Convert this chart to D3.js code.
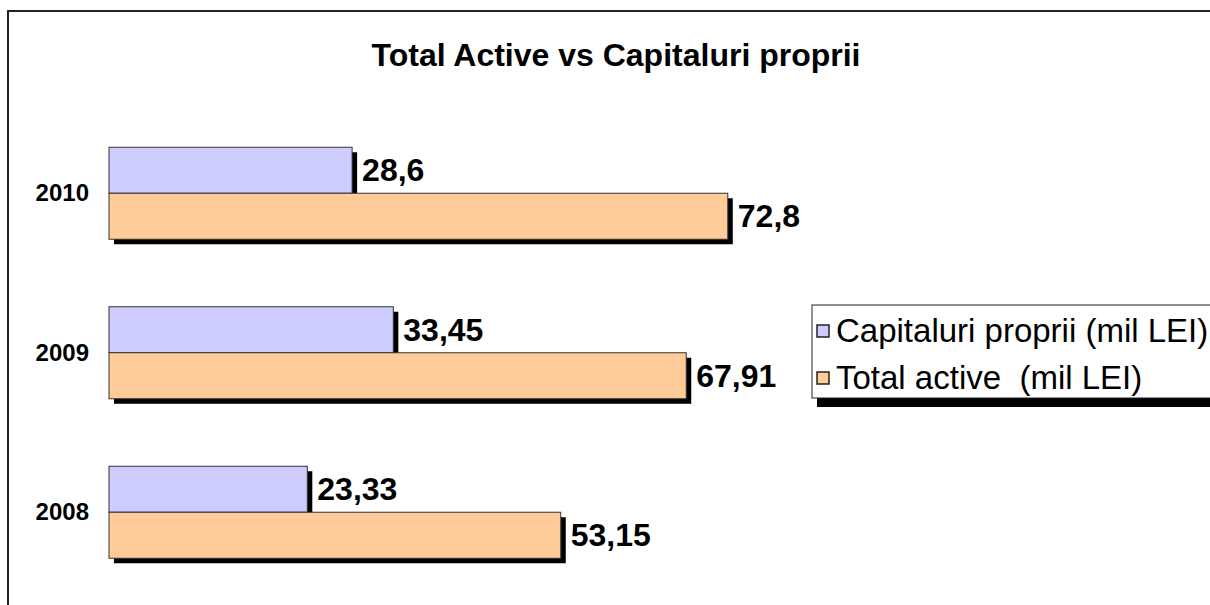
<!DOCTYPE html>
<html>
<head>
<meta charset="utf-8">
<script src="https://cdn.jsdelivr.net/npm/d3@7"></script>
<style>
  body { margin: 0; background: #fff; }
  svg { display: block; font-family: Arial, "Liberation Sans", sans-serif; }
</style>
</head>
<body>
<svg id="chart"></svg>
<script>
var years = ["2010", "2009", "2008"];
var capitaluri = [28.6, 33.45, 23.33];
var totalActive = [72.8, 67.91, 53.15];
var capLabels = ["28,6", "33,45", "23,33"];
var totLabels = ["72,8", "67,91", "53,15"];
var seriesNames = ["Capitaluri proprii (mil LEI)", "Total active  (mil LEI)"];
var seriesColors = ["#ccccff", "#ffcc99"];

var width = 1210;
var height = 605;
var barH = 46;
var shadow = 5;

var svg = d3.select("#chart").attr("width", width).attr("height", height);

// outer chart frame (runs past the right and bottom edge)
svg.append("rect")
  .attr("x", 8).attr("y", 11)
  .attr("width", 1230).attr("height", 640)
  .style("fill", "#fff")
  .style("stroke", "#222")
  .style("stroke-width", 2);

svg.append("text")
  .attr("x", 616).attr("y", 66)
  .attr("text-anchor", "middle")
  .style("font-size", "32px")
  .style("font-weight", "bold")
  .text("Total Active vs Capitaluri proprii");

var xScale = d3.scaleLinear().domain([0, 80]).range([109, 789]);
var yScale = d3.scaleBand().domain(years).range([113.5, 592]);

var rows = years.map(function (y, i) {
  return { year: y, cap: capitaluri[i], tot: totalActive[i], capL: capLabels[i], totL: totLabels[i] };
});

function mid(d) { return yScale(d.year) + yScale.bandwidth() / 2; }

rows.forEach(function (d) {
  var g = svg.append("g").attr("class", "row");
  var m = mid(d);

  // shadows
  g.append("rect")
    .attr("x", xScale(0) + shadow)
    .attr("y", m - barH + shadow)
    .attr("width", xScale(d.cap) - xScale(0))
    .attr("height", barH)
    .style("fill", "#000");
  g.append("rect")
    .attr("x", xScale(0) + shadow)
    .attr("y", m + shadow)
    .attr("width", xScale(d.tot) - xScale(0))
    .attr("height", barH)
    .style("fill", "#000");

  g.append("rect")
    .attr("x", xScale(0))
    .attr("y", m - barH)
    .attr("width", xScale(d.cap) - xScale(0))
    .attr("height", barH)
    .style("fill", seriesColors[0])
    .style("stroke", "#333")
    .style("stroke-width", 1);
  g.append("rect")
    .attr("x", xScale(0))
    .attr("y", m)
    .attr("width", xScale(d.tot) - xScale(0))
    .attr("height", barH)
    .style("fill", seriesColors[1])
    .style("stroke", "#333")
    .style("stroke-width", 1);

  // value labels
  g.append("text")
    .attr("x", xScale(d.cap) + 10)
    .attr("y", m - barH / 2 + 11)
    .style("font-size", "32px")
    .style("font-weight", "bold")
    .text(d.capL);
  g.append("text")
    .attr("x", xScale(d.tot) + 10)
    .attr("y", m + barH / 2 + 11)
    .style("font-size", "32px")
    .style("font-weight", "bold")
    .text(d.totL);

  // category label
  g.append("text")
    .attr("x", 89)
    .attr("y", m + 8)
    .attr("text-anchor", "end")
    .style("font-size", "24px")
    .style("font-weight", "bold")
    .text(d.year);
});

// legend
svg.append("rect")
  .attr("x", 817).attr("y", 305)
  .attr("width", 420).attr("height", 102)
  .style("fill", "#000");
svg.append("rect")
  .attr("x", 812).attr("y", 305)
  .attr("width", 420).attr("height", 93)
  .style("fill", "#fff")
  .style("stroke", "#222")
  .style("stroke-width", 1);

for (var i = 0; i < seriesNames.length; i++) {
  var ly = 331 + i * 47;
  svg.append("rect")
    .attr("x", 817).attr("y", ly - 6)
    .attr("width", 12).attr("height", 12)
    .style("fill", seriesColors[i])
    .style("stroke", "#222")
    .style("stroke-width", 1.5);
  svg.append("text")
    .attr("x", 836).attr("y", ly + 11)
    .style("font-size", "33px")
    .style("white-space", "pre")
    .text(seriesNames[i]);
}
</script>
</body>
</html>
